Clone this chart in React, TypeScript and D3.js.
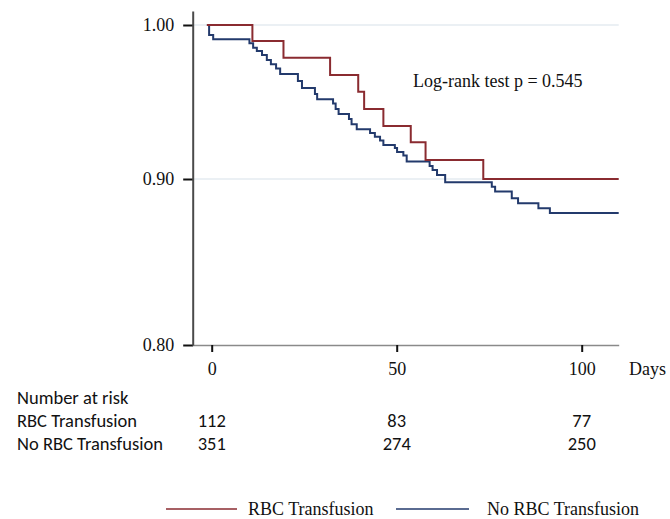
import React, { useRef, useEffect } from 'react';
import * as d3 from 'd3';

// Kaplan-Meier steps (day, survival)
const rbcTimes = [-1.3, 11.0, 19.4, 32.0, 39.6, 41.2, 46.4, 53.8, 57.8, 73.4, 110];
const rbcSurv = [1.0, 0.9896, 0.9788, 0.9675, 0.9567, 0.9455, 0.9344, 0.9238, 0.9123, 0.9, 0.9];

const noRbcTimes = [-1.3, -0.7, 0.4, 10.2, 11.2, 12.2, 13.6, 14.9, 16.0, 17.4, 18.5, 23.3, 24.4, 27.9, 28.5, 32.8, 33.5, 34.3,
    37.1, 37.8, 39.2, 42.8, 44.1, 45.5, 46.4, 49.5, 50.1, 51.8, 52.7, 58.9, 59.7, 60.9, 63.1, 75.7, 76.6, 81.1, 82.8, 88.3, 91.4, 110];
const noRbcSurv = [1.0, 0.9935, 0.9907, 0.9881, 0.9853, 0.9831, 0.9805, 0.9773, 0.9745, 0.9718, 0.9682, 0.9636, 0.9591, 0.9552, 0.9518, 0.949, 0.9455, 0.9422,
    0.939, 0.9355, 0.9323, 0.9299, 0.9275, 0.925, 0.9221, 0.9201, 0.9175, 0.9153, 0.9114, 0.9084, 0.9058, 0.9026, 0.898, 0.8954, 0.8924, 0.8884, 0.8854, 0.8824, 0.8795, 0.8795];

const xTicks = [0, 50, 100];
const yTicks = [0.8, 0.9, 1.0];
const gridValues = [0.9, 1.0];

const riskTimes = [0, 50, 100];
const riskRbc = [112, 83, 77];
const riskNoRbc = [351, 274, 250];

const seriesNames = ['RBC Transfusion', 'No RBC Transfusion'];
const seriesColors = ['#8a2b30', '#233a6c'];

const SERIF = '"Liberation Serif", "Times New Roman", serif';
const SANS = 'Calibri, Carlito, Lato, sans-serif';

const App = () => {
    const ref = useRef(null);

    useEffect(() => {
        const svg = d3.select(ref.current);
        svg.selectAll('*').remove();

        const x = d3.scaleLinear().domain([-5, 110]).range([193.2, 618.7]);
        // axis in the source is not evenly spaced between ticks
        const y = d3.scaleLinear().domain([0.8, 0.9, 1.0]).range([345, 179, 25]);

        // grid lines
        svg.append('g')
            .selectAll('line')
            .data(gridValues)
            .join('line')
            .attr('x1', x(-5))
            .attr('x2', x(110))
            .attr('y1', d => y(d))
            .attr('y2', d => y(d))
            .attr('stroke', '#e4ebf0')
            .attr('stroke-width', 1.5);

        // x axis
        const xAxis = svg.append('g')
            .attr('transform', `translate(0,${y(0.8)})`)
            .call(d3.axisBottom(x).tickValues(xTicks).tickSize(7).tickSizeOuter(0).tickPadding(10));
        xAxis.select('.domain').attr('stroke', '#8a8a8a').attr('stroke-width', 1.5);
        xAxis.selectAll('.tick line').attr('stroke', '#111').attr('stroke-width', 2);
        xAxis.selectAll('text').attr('font-family', SERIF).attr('font-size', 18).attr('fill', '#111');

        svg.append('text')
            .attr('x', 629)
            .attr('y', 375)
            .attr('font-family', SERIF)
            .attr('font-size', 18)
            .attr('fill', '#111')
            .text('Days');

        // y axis
        const yAxis = svg.append('g')
            .attr('transform', `translate(${x(-5)},0)`)
            .call(d3.axisLeft(y).tickValues(yTicks).tickFormat(d3.format('.2f')).tickSize(10).tickSizeOuter(0).tickPadding(9));
        yAxis.select('.domain').remove();
        yAxis.selectAll('.tick line').attr('stroke', '#111').attr('stroke-width', 2);
        yAxis.selectAll('text').attr('font-family', SERIF).attr('font-size', 18).attr('fill', '#111');

        svg.append('line')
            .attr('x1', x(-5))
            .attr('x2', x(-5))
            .attr('y1', 11.5)
            .attr('y2', y(0.8) + 0.75)
            .attr('stroke', '#4a4a4a')
            .attr('stroke-width', 2);

        // curves
        const line = d3.line()
            .x(d => x(d[0]))
            .y(d => y(d[1]))
            .curve(d3.curveStepAfter);

        const series = [
            rbcTimes.map((t, i) => [t, rbcSurv[i]]),
            noRbcTimes.map((t, i) => [t, noRbcSurv[i]])
        ];

        [1, 0].forEach(i => {
            svg.append('path')
                .datum(series[i])
                .attr('d', line)
                .attr('fill', 'none')
                .attr('stroke', seriesColors[i])
                .attr('stroke-width', 2);
        });

        svg.append('text')
            .attr('x', 413)
            .attr('y', 87)
            .attr('font-family', SERIF)
            .attr('font-size', 18)
            .attr('fill', '#111')
            .text('Log-rank test p = 0.545');

        // number at risk table
        const table = svg.append('g')
            .attr('font-family', SANS)
            .attr('font-size', 18.5)
            .attr('fill', '#111');

        table.append('text').attr('x', 17).attr('y', 404).text('Number at risk');
        table.append('text').attr('x', 17).attr('y', 427).text(seriesNames[0]);
        table.append('text').attr('x', 17).attr('y', 450).text(seriesNames[1]);

        [riskRbc, riskNoRbc].forEach((row, r) => {
            table.append('g')
                .selectAll('text')
                .data(row)
                .join('text')
                .attr('x', (d, i) => x(riskTimes[i]))
                .attr('y', 427 + r * 23)
                .attr('text-anchor', 'middle')
                .text(d => d);
        });

        // legend
        const legendItems = [
            { x0: 166, x1: 237, tx: 248 },
            { x0: 396, x1: 469, tx: 487 }
        ];
        const legend = svg.append('g')
            .selectAll('g')
            .data(legendItems)
            .join('g');

        legend.append('line')
            .attr('x1', d => d.x0)
            .attr('x2', d => d.x1)
            .attr('y1', 509)
            .attr('y2', 509)
            .attr('stroke', (d, i) => seriesColors[i])
            .attr('stroke-width', 1.5);

        legend.append('text')
            .attr('x', d => d.tx)
            .attr('y', 515)
            .attr('font-family', SERIF)
            .attr('font-size', 18)
            .attr('fill', '#111')
            .text((d, i) => seriesNames[i]);
    }, []);

    return (
        <svg
            ref={ref}
            width={670}
            height={519}
            style={{ position: 'absolute', left: 0, top: 0, background: '#fff' }}
        />
    );
};

export default App;
